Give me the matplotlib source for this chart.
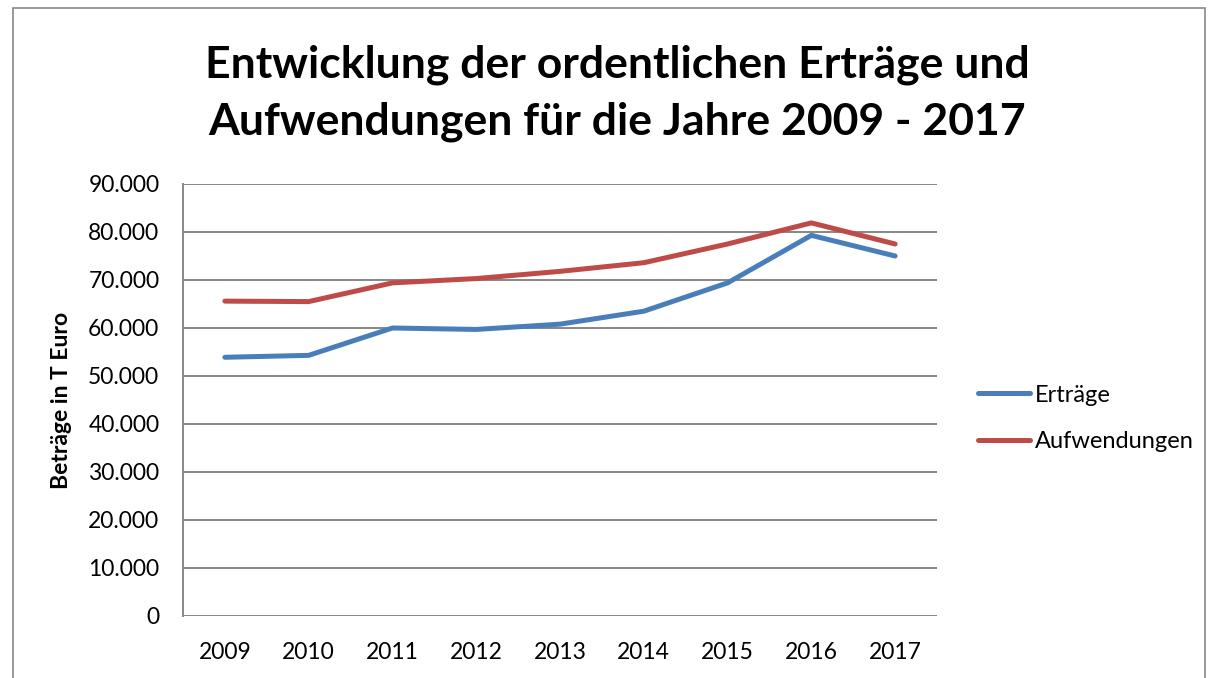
import matplotlib
matplotlib.use("Agg")
import matplotlib.pyplot as plt
from matplotlib.patches import Rectangle
from matplotlib.ticker import FuncFormatter

years = ["2009", "2010", "2011", "2012", "2013", "2014", "2015", "2016", "2017"]
ertraege = [53900, 54300, 60000, 59700, 60800, 63500, 69400, 79300, 75000]
aufwendungen = [65600, 65500, 69400, 70300, 71800, 73600, 77500, 81900, 77500]
yticks = [0, 10000, 20000, 30000, 40000, 50000, 60000, 70000, 80000, 90000]

plt.rcParams['font.family'] = ['Lato', 'DejaVu Sans']

W, H = 1218, 678
fig = plt.figure(figsize=(W/100, H/100), dpi=100)
ax = fig.add_axes([183/W, 1-616/H, 754/W, 432/H])

x = list(range(len(years)))
ax.plot(x, ertraege, color='#4A7EBB', lw=3.6, solid_capstyle='round', label='Erträge')
ax.plot(x, aufwendungen, color='#BE4B48', lw=3.6, solid_capstyle='round', label='Aufwendungen')

ax.set_xlim(-0.5, len(years)-0.5)
ax.set_ylim(0, 90000)
ax.set_yticks(yticks)
ax.yaxis.set_major_formatter(FuncFormatter(lambda v, p: f"{int(v):,}".replace(",", ".")))
ax.set_xticks(x)
ax.set_xticklabels(years)
ax.grid(axis='y', color='#878787', lw=1.4)
ax.set_axisbelow(True)
for s in ['top', 'right', 'bottom']:
    ax.spines[s].set_visible(False)
ax.spines['left'].set_color('#878787')
ax.spines['left'].set_linewidth(1.4)
ax.tick_params(axis='both', length=0, labelsize=16.5, colors='black')
ax.tick_params(axis='y', pad=17)
ax.tick_params(axis='x', pad=19)

fig.text(62/W, 1-400/H, 'Beträge in T Euro', rotation=90, ha='center', va='center',
         fontsize=16.5, fontweight='bold')

fig.text(617/W, 1-65/H, 'Entwicklung der ordentlichen Erträge und', ha='center', va='center',
         fontsize=32, fontweight='bold')
fig.text(617/W, 1-122/H, 'Aufwendungen für die Jahre 2009 - 2017', ha='center', va='center',
         fontsize=32, fontweight='bold')

fig.legend(loc='center left', bbox_to_anchor=(978/W, 1-418.5/H), frameon=False,
           fontsize=17, handlelength=2.2, handletextpad=0.2, labelspacing=1.1,
           borderpad=0, borderaxespad=0)

fig.patches.append(Rectangle((13/W, -0.1), (1205-13)/W, 1.1 - 8/H,
                             transform=fig.transFigure, fill=False, edgecolor='#888888', lw=1.2))

fig.savefig('out.png', dpi=100)
